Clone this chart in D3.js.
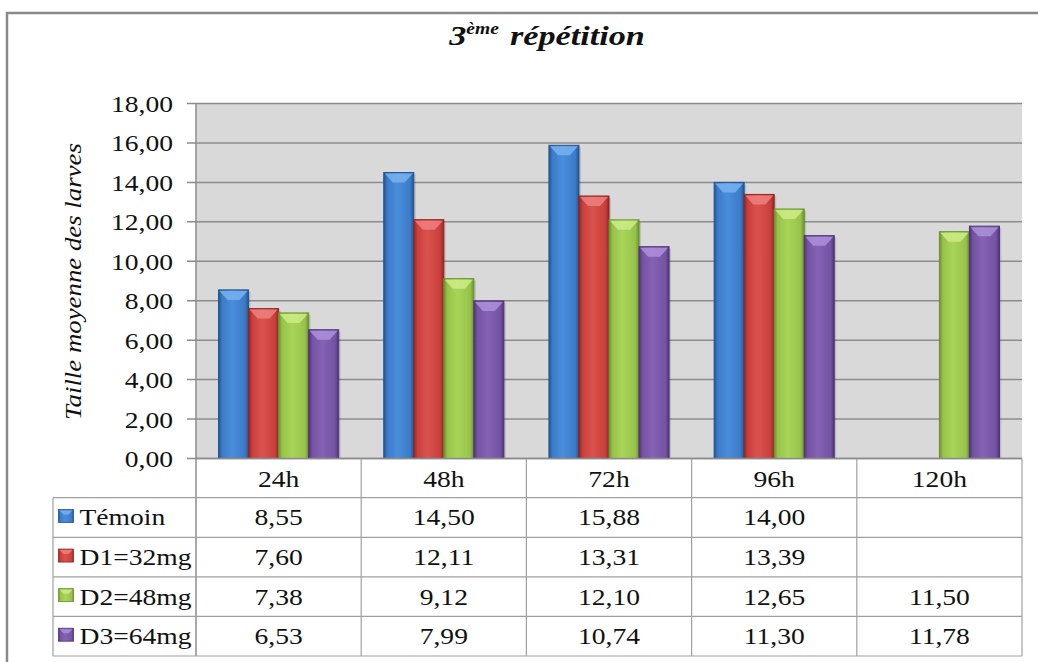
<!DOCTYPE html>
<html lang="fr">
<head>
<meta charset="UTF-8">
<title>3ème répétition</title>
<script src="https://cdn.jsdelivr.net/npm/d3@7"></script>
<style>
  body { margin: 0; background: #fff; }
</style>
</head>
<body>
<svg id="chart" width="1038" height="662"></svg>
<script>
// data
const categories = ["24h", "48h", "72h", "96h", "120h"];
const seriesNames = ["Témoin", "D1=32mg", "D2=48mg", "D3=64mg"];
const temoin = [8.55, 14.50, 15.88, 14.00, null];
const d1 = [7.60, 12.11, 13.31, 13.39, null];
const d2 = [7.38, 9.12, 12.10, 12.65, 11.50];
const d3v = [6.53, 7.99, 10.74, 11.30, 11.78];
const yTicks = [0, 2, 4, 6, 8, 10, 12, 14, 16, 18];

const seriesValues = [temoin, d1, d2, d3v];
const colors = [
  { base: "#3b7bc8", light: "#4a8edb", dark: "#23558f", bevel: "#78b2ee" },
  { base: "#c93f3b", light: "#d9534e", dark: "#8f2624", bevel: "#ef8080" },
  { base: "#97c34a", light: "#a8d45a", dark: "#6b9130", bevel: "#cdec86" },
  { base: "#7553a3", light: "#8562b4", dark: "#4f3578", bevel: "#ad90da" }
];

// pick an installed serif face
const ctx = document.createElement("canvas").getContext("2d");
function hasFont(name) {
  const s = "mmmmmmmmmmlli1WQ@#";
  return ["monospace", "sans-serif"].some(fb => {
    ctx.font = `72px ${fb}`;
    const a = ctx.measureText(s).width;
    ctx.font = `72px "${name}", ${fb}`;
    return ctx.measureText(s).width !== a;
  });
}
const serifName = ["Liberation Serif", "Tinos", "Times New Roman", "DejaVu Serif", "Noto Serif", "FreeSerif", "Nimbus Roman", "Times"]
  .find(hasFont) || "serif";
const FONT = serifName === "serif" ? "serif" : `"${serifName}", serif`;

function measure(s, size, style) {
  ctx.font = `${style || ""} ${size}px ${FONT}`;
  return ctx.measureText(s).width;
}
// text in the picture is stretched sideways; calibrate on the legend label width
const SX = 112 / measure("D1=32mg", 23);
const SXT = 135 / measure("répétition", 28, "italic bold");

const svg = d3.select("#chart").attr("font-family", FONT);
const plot = { left: 196, right: 1022, top: 103.5, bottom: 458.5 };
const tableTop = 497.7, tableBottom = 656, legendLeft = 53;

const fr = d3.formatLocale({ decimal: ",", thousands: " ", grouping: [3], currency: ["", "€"] });
const fmt = fr.format(".2f");

const x0 = d3.scaleBand().domain(categories).range([plot.left, plot.right]);
const x1 = d3.scaleBand().domain(seriesNames).range([0, x0.bandwidth()]).paddingOuter(0.75);
const y = d3.scaleLinear().domain([0, 18]).range([plot.bottom, plot.top]);
const rowY = d3.scaleBand().domain(seriesNames).range([tableTop, tableBottom]);

function label(g, x, yy, s, size, anchor) {
  return g.append("text")
    .attr("transform", `translate(${x},${yy}) scale(${SX},1)`)
    .attr("text-anchor", anchor || "middle")
    .attr("font-family", FONT)
    .attr("font-size", size + "px")
    .attr("fill", "#111")
    .text(s);
}

// gradients
const defs = svg.append("defs");
colors.forEach((c, i) => {
  const gr = defs.append("linearGradient").attr("id", "g" + i)
    .attr("x1", "0").attr("x2", "1").attr("y1", "0").attr("y2", "0");
  gr.append("stop").attr("offset", "0%").attr("stop-color", c.dark);
  gr.append("stop").attr("offset", "12%").attr("stop-color", c.base);
  gr.append("stop").attr("offset", "45%").attr("stop-color", c.light);
  gr.append("stop").attr("offset", "88%").attr("stop-color", c.base);
  gr.append("stop").attr("offset", "100%").attr("stop-color", c.dark);
});

// frame
svg.append("path")
  .attr("d", "M7,662 V13 H1038")
  .attr("fill", "none").attr("stroke", "#8a8a8a").attr("stroke-width", 2.5);

// title
const title = svg.append("text")
  .attr("transform", `translate(547,45) scale(${SXT},1)`)
  .attr("text-anchor", "middle")
  .attr("font-family", FONT)
  .attr("font-size", "28px")
  .attr("font-style", "italic")
  .attr("font-weight", "bold")
  .attr("fill", "#111");
title.append("tspan").text("3");
title.append("tspan").attr("font-size", "16px").attr("dy", -11).text("ème");
title.append("tspan").attr("dy", 11).attr("dx", 9).text("répétition");

// plot area
svg.append("rect")
  .attr("x", plot.left).attr("y", plot.top)
  .attr("width", plot.right - plot.left).attr("height", plot.bottom - plot.top)
  .attr("fill", "#d9d9d9");

// gridlines + ticks
svg.append("g").selectAll("line").data(yTicks).join("line")
  .attr("x1", plot.left - 9).attr("x2", plot.right)
  .attr("y1", d => y(d)).attr("y2", d => y(d))
  .attr("stroke", "#8c8c8c").attr("stroke-width", 1.5);

yTicks.forEach(t => label(svg, 173, y(t) + 8.5, fmt(t), 23, "end"));

// y axis title
const yLab = "Taille moyenne des larves";
svg.append("text")
  .attr("transform", `translate(81,281.5) rotate(-90) scale(${277 / measure(yLab, 24, "italic")},1)`)
  .attr("text-anchor", "middle")
  .attr("font-family", FONT)
  .attr("font-size", "24px")
  .attr("font-style", "italic")
  .attr("fill", "#111")
  .text(yLab);

// bars
seriesNames.forEach((s, si) => {
  const c = colors[si];
  const g = svg.append("g");
  categories.forEach((cat, ci) => {
    const v = seriesValues[si][ci];
    if (v == null) return;
    const bx = x0(cat) + x1(s), bw = x1.bandwidth();
    const by = y(v), bh = y(0) - y(v);
    g.append("rect")
      .attr("x", bx + 2).attr("y", by + 2).attr("width", bw).attr("height", bh - 2)
      .attr("fill", "#000").attr("opacity", 0.12);
    g.append("rect")
      .attr("x", bx).attr("y", by).attr("width", bw).attr("height", bh)
      .attr("fill", `url(#g${si})`).attr("stroke", c.dark).attr("stroke-width", 1);
    g.append("path")
      .attr("d", `M${bx + 1},${by + 1} H${bx + bw - 1} L${bx + bw - 9},${by + 10} H${bx + 9} Z`)
      .attr("fill", c.bevel).attr("opacity", 0.85);
  });
});

// axis line (left) and category axis
svg.append("line")
  .attr("x1", plot.left).attr("x2", plot.left).attr("y1", plot.top).attr("y2", tableBottom)
  .attr("stroke", "#8c8c8c").attr("stroke-width", 1.5);
svg.append("line")
  .attr("x1", plot.left).attr("x2", plot.right).attr("y1", plot.bottom).attr("y2", plot.bottom)
  .attr("stroke", "#8c8c8c").attr("stroke-width", 1.5);

// data table
const tg = svg.append("g").attr("stroke", "#a0a0a0").attr("stroke-width", 1.2);
const colEdges = categories.map(c => x0(c)).concat([plot.right]);
colEdges.slice(1).forEach(xx => {
  tg.append("line").attr("x1", xx).attr("x2", xx).attr("y1", plot.bottom).attr("y2", tableBottom);
});
tg.append("line").attr("x1", legendLeft).attr("x2", legendLeft).attr("y1", tableTop).attr("y2", tableBottom);
seriesNames.map(s => rowY(s)).concat([tableBottom]).forEach(yy => {
  tg.append("line").attr("x1", legendLeft).attr("x2", plot.right).attr("y1", yy).attr("y2", yy);
});

categories.forEach(cat => {
  label(svg, x0(cat) + x0.bandwidth() / 2, (plot.bottom + tableTop) / 2 + 8.5, cat, 23);
});

seriesNames.forEach((s, si) => {
  const cy = rowY(s) + rowY.bandwidth() / 2;
  const c = colors[si];
  // legend key
  const kx = 58.5, kw = 15, kh = 13, ky = cy - 8;
  svg.append("rect").attr("x", kx).attr("y", ky).attr("width", kw).attr("height", kh)
    .attr("fill", `url(#g${si})`).attr("stroke", c.dark).attr("stroke-width", 0.8);
  svg.append("path")
    .attr("d", `M${kx + 1},${ky + 1} H${kx + kw - 1} L${kx + kw - 5},${ky + 5} H${kx + 5} Z`)
    .attr("fill", c.bevel).attr("opacity", 0.85);
  label(svg, 79.5, cy + 8, s, 23, "start");
  categories.forEach((cat, ci) => {
    const v = seriesValues[si][ci];
    if (v == null) return;
    label(svg, x0(cat) + x0.bandwidth() / 2, cy + 8, fmt(v), 23);
  });
});
</script>
</body>
</html>
